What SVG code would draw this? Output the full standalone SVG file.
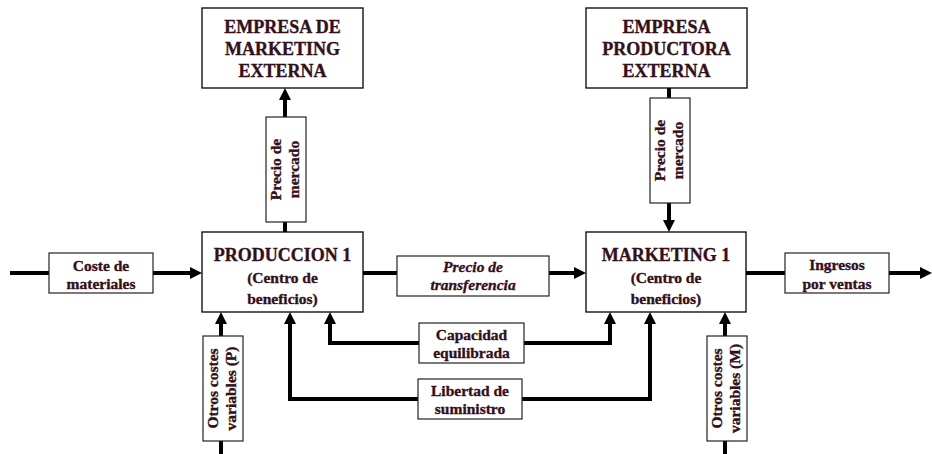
<svg xmlns="http://www.w3.org/2000/svg" width="932" height="454" viewBox="0 0 932 454">
<style>
.box{fill:#fff;stroke:#000;stroke-width:1.3}
.sbox{fill:#fff;stroke:#222;stroke-width:1.2}
.t{font-family:"Liberation Serif","Times New Roman",serif;font-weight:bold;fill:#33101a;stroke:#33101a;stroke-width:0.35;text-anchor:middle}
.big{font-size:18px}
.sm{font-size:15.5px}
.it{font-style:italic}
.c{fill:none;stroke:#000;stroke-width:4;stroke-linejoin:miter}
</style>
<defs>
<marker id="ah" markerUnits="userSpaceOnUse" viewBox="0 0 12 12" markerWidth="12" markerHeight="12" refX="2" refY="6" orient="auto">
<path d="M0,0 L12,6 L0,12 z" fill="#000"/>
</marker>
</defs>
<rect width="932" height="454" fill="#fff"/>
<g id="connectors">
<path class="c" d="M10 273 H49"/>
<path class="c" d="M153 273 H192" marker-end="url(#ah)"/>
<path class="c" d="M363 273 H397"/>
<path class="c" d="M549 273 H576" marker-end="url(#ah)"/>
<path class="c" d="M746 273 H785"/>
<path class="c" d="M889 273 H922" marker-end="url(#ah)"/>
<path class="c" d="M285 232 V222"/>
<path class="c" d="M285 117 V98" marker-end="url(#ah)"/>
<path class="c" d="M669 88 V98"/>
<path class="c" d="M669 203 V222" marker-end="url(#ah)"/>
<path class="c" d="M221 454 V441"/>
<path class="c" d="M221 336 V322" marker-end="url(#ah)"/>
<path class="c" d="M725 454 V441"/>
<path class="c" d="M725 336 V322" marker-end="url(#ah)"/>
<path class="c" d="M419 343 H330 V322" marker-end="url(#ah)"/>
<path class="c" d="M524 343 H610 V322" marker-end="url(#ah)"/>
<path class="c" d="M418 399 H290 V322" marker-end="url(#ah)"/>
<path class="c" d="M522 399 H650 V322" marker-end="url(#ah)"/>
</g>
<g id="empresa-marketing">
<rect class="box" x="202" y="8" width="161" height="80"/>
<text class="t big" x="282.5" y="33">EMPRESA DE</text>
<text class="t big" x="282.5" y="55">MARKETING</text>
<text class="t big" x="282.5" y="77">EXTERNA</text>
</g>
<g id="empresa-productora">
<rect class="box" x="586" y="8" width="161" height="80"/>
<text class="t big" x="666.5" y="33">EMPRESA</text>
<text class="t big" x="666.5" y="55">PRODUCTORA</text>
<text class="t big" x="666.5" y="77">EXTERNA</text>
</g>
<g id="produccion">
<rect class="box" x="202" y="232" width="161" height="80"/>
<text class="t big" x="282.5" y="261">PRODUCCION 1</text>
<text class="t sm" x="282.5" y="283">(Centro de</text>
<text class="t sm" x="282.5" y="304">beneficios)</text>
</g>
<g id="marketing">
<rect class="box" x="586" y="232" width="160" height="80"/>
<text class="t big" x="666" y="261">MARKETING 1</text>
<text class="t sm" x="666" y="283">(Centro de</text>
<text class="t sm" x="666" y="304">beneficios)</text>
</g>
<g id="coste">
<rect class="sbox" x="49" y="253" width="104" height="40"/>
<text class="t sm" x="101" y="271">Coste de</text>
<text class="t sm" x="101" y="289">materiales</text>
</g>
<g id="precio-transferencia">
<rect class="sbox" x="397" y="256" width="152" height="40"/>
<text class="t sm it" x="473" y="272">Precio de</text>
<text class="t sm it" x="473" y="290">transferencia</text>
</g>
<g id="ingresos">
<rect class="sbox" x="785" y="253" width="104" height="40"/>
<text class="t sm" x="837" y="270">Ingresos</text>
<text class="t sm" x="837" y="289">por ventas</text>
</g>
<g id="precio-mercado-1">
<rect class="sbox" x="266" y="117" width="40" height="105"/>
<g transform="translate(286 169.5) rotate(-90)">
<text class="t sm" x="0" y="-5">Precio de</text>
<text class="t sm" x="0" y="13">mercado</text>
</g>
</g>
<g id="precio-mercado-2">
<rect class="sbox" x="650" y="98" width="40" height="105"/>
<g transform="translate(670 150.5) rotate(-90)">
<text class="t sm" x="0" y="-5">Precio de</text>
<text class="t sm" x="0" y="13">mercado</text>
</g>
</g>
<g id="otros-p">
<rect class="sbox" x="203" y="336" width="40" height="105"/>
<g transform="translate(223 388.5) rotate(-90)">
<text class="t sm" x="0" y="-5">Otros costes</text>
<text class="t sm" x="0" y="13">variables (P)</text>
</g>
</g>
<g id="otros-m">
<rect class="sbox" x="707" y="336" width="40" height="105"/>
<g transform="translate(727 388.5) rotate(-90)">
<text class="t sm" x="0" y="-5">Otros costes</text>
<text class="t sm" x="0" y="13">variables (M)</text>
</g>
</g>
<g id="capacidad">
<rect class="sbox" x="419" y="323" width="105" height="40"/>
<text class="t sm" x="471.5" y="340">Capacidad</text>
<text class="t sm" x="471.5" y="358">equilibrada</text>
</g>
<g id="libertad">
<rect class="sbox" x="418" y="379" width="104" height="40"/>
<text class="t sm" x="470" y="396">Libertad de</text>
<text class="t sm" x="470" y="414">suministro</text>
</g>
</svg>
